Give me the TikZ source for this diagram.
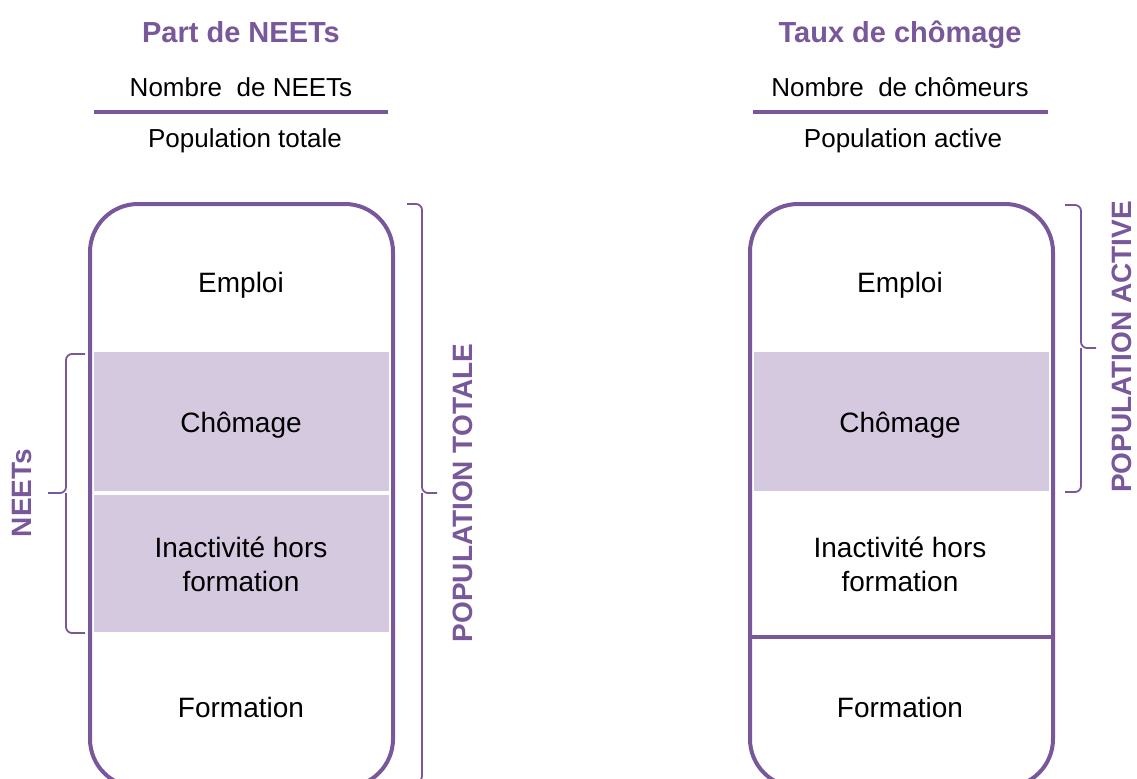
\documentclass[tikz,border=0pt]{standalone}
\usepackage{fontspec}
\setmainfont{Liberation Sans}
\usetikzlibrary{positioning,calc}
\definecolor{neetpurple}{RGB}{120,87,155}
\definecolor{neetlight}{RGB}{213,201,224}

\begin{document}
\begin{tikzpicture}[x=0.5pt, y=-0.5pt,
    boxtext/.style={font=\fontsize{14}{17}\selectfont, align=center, inner sep=0pt},
    title/.style={font=\fontsize{14.5}{17}\selectfont\bfseries, text=neetpurple, inner sep=0pt, anchor=base},
    frac/.style={font=\fontsize{13}{15}\selectfont, inner sep=0pt, anchor=base},
    side/.style={font=\fontsize{14}{17}\selectfont\bfseries, text=neetpurple, rotate=90, inner sep=0pt},
    panel/.style={draw=neetpurple, line width=2pt, rounded corners=24pt},
    band/.style={fill=neetlight},
    bar/.style={draw=neetpurple, line width=2pt},
    bracket/.style={draw=neetpurple, line width=0.9pt, rounded corners=3pt}]
    \useasboundingbox (0,0) rectangle (1137,778);

    % left panel : part de NEETs
    \node[title] (titleL) at (241,42) {Part de NEETs};
    \node[frac] (numL) at (241,96) {Nombre\ \ de NEETs};
    \node[frac] (denL) at (245,147) {Population totale};
    \draw[bar] (94,112) -- (388,112);

    \fill[band] (94,352) rectangle (389,491);
    \fill[band] (94,495) rectangle (389,632);
    \draw[panel] (90,204) rectangle (393,787);

    \node[boxtext, anchor=base] (emploiL) at (241,292) {Emploi};
    \node[boxtext, anchor=base] (chomL) at (241,432) {Chômage};
    \node[boxtext] (inactL) at (241,564) {Inactivité hors\\formation};
    \node[boxtext, anchor=base] (formL) at (241,717) {Formation};

    % braces
    \draw[bracket] (85,354) -| (66,493) -- (48,493);
    \draw[bracket] (85,633) -| (66,493);
    \node[side] (neets) at (22,493) {NEETs};

    \draw[bracket] (407,204) -| (422,493) -- (437,493);
    \draw[bracket] (407,782) -| (422,493);
    \node[side] (poptot) at (463,493) {POPULATION TOTALE};

    % right panel : taux de chomage
    \node[title] (titleR) at (900,42) {Taux de chômage};
    \node[frac] (numR) at (900,96) {Nombre\ \ de chômeurs};
    \node[frac] (denR) at (903,147) {Population active};
    \draw[bar] (753,112) -- (1048,112);

    \fill[band] (754,352) rectangle (1049,491);
    \draw[panel] (750,204) rectangle (1053,787);
    \draw[bar] (752,637) -- (1051,637);

    \node[boxtext, anchor=base] (emploiR) at (900,292) {Emploi};
    \node[boxtext, anchor=base] (chomR) at (900,432) {Chômage};
    \node[boxtext] (inactR) at (900,564) {Inactivité hors\\formation};
    \node[boxtext, anchor=base] (formR) at (900,717) {Formation};

    \draw[bracket] (1065,205) -| (1081,348) -- (1096,348);
    \draw[bracket] (1065,492) -| (1081,348);
    \node[side] (popact) at (1122,347) {POPULATION ACTIVE};
\end{tikzpicture}
\end{document}
